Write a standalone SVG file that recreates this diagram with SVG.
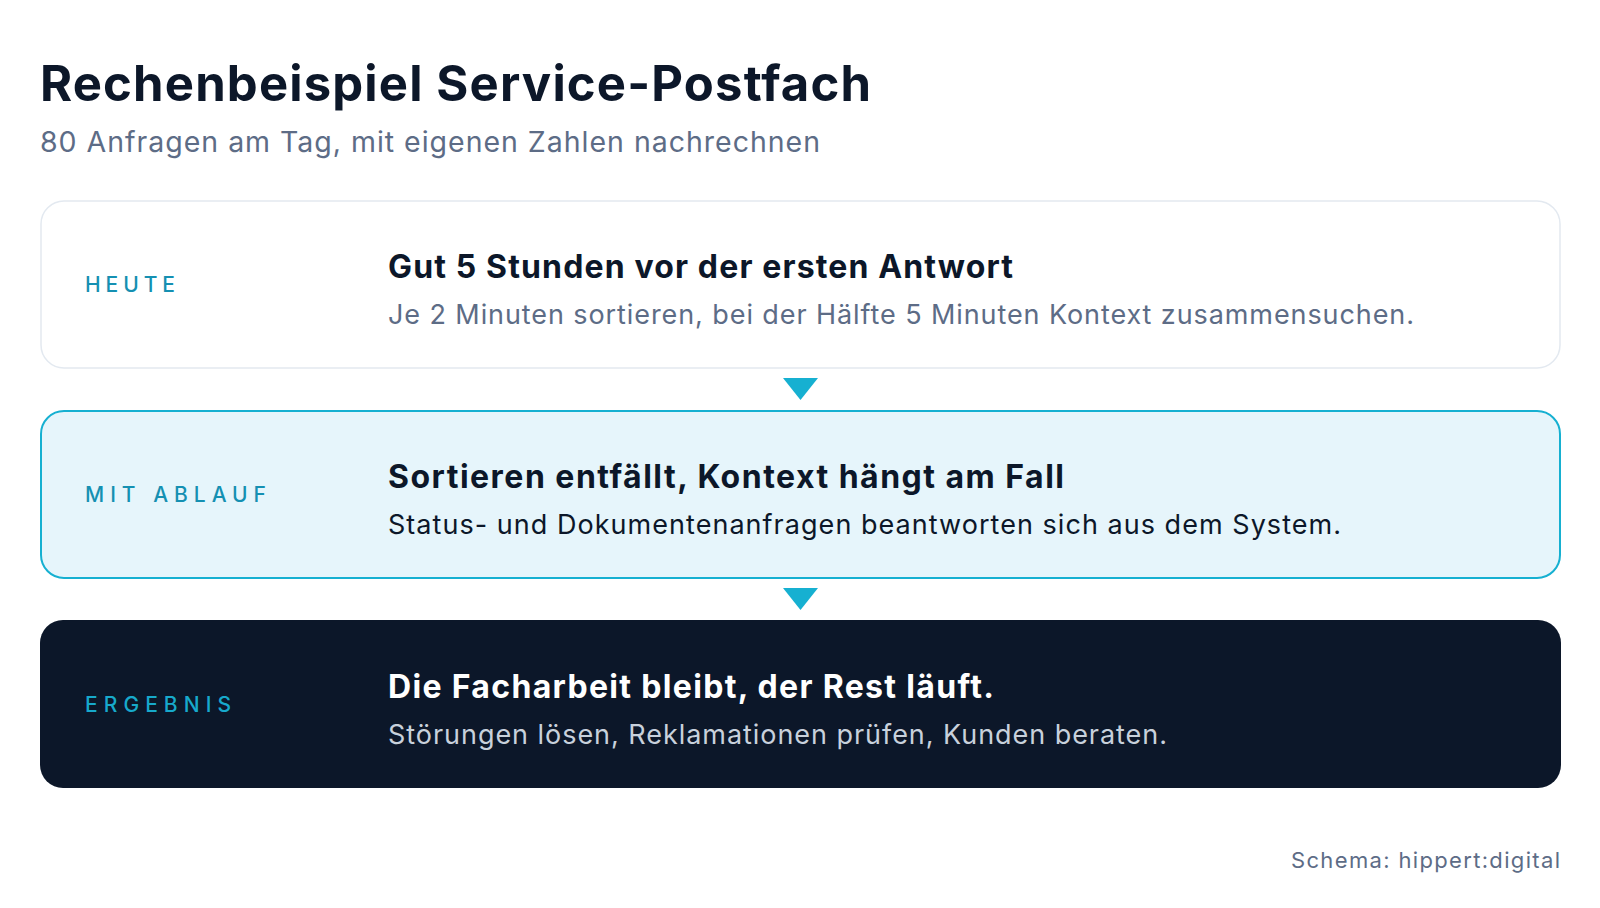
<svg xmlns="http://www.w3.org/2000/svg" width="1600" height="908" viewBox="0 0 1600 908">
<style>
text{font-family:Inter,"Noto Sans","Liberation Sans",sans-serif}
.title{font-size:49px;font-weight:700;fill:#0c1729}
.sub{font-size:28.5px;fill:#5d6c86}
.lbl{font-size:21px;font-weight:500;fill:#1590b2}
.h{font-size:32px;font-weight:700;fill:#0c1729}
.d{font-size:27px;fill:#5d6c86}
.foot{font-size:22px;fill:#5d6c86}
.tri{fill:#16b0d1}
</style>
<rect width="1600" height="908" fill="#ffffff"/>
<text class="title" x="40" y="101" textLength="831" lengthAdjust="spacing">Rechenbeispiel Service-Postfach</text>
<text class="sub" x="40" y="152" textLength="780" lengthAdjust="spacing">80 Anfragen am Tag, mit eigenen Zahlen nachrechnen</text>
<g id="node-heute">
<rect x="41" y="201" width="1519" height="167" rx="23" fill="#ffffff" stroke="#e3e9f0" stroke-width="1.5"/>
<text class="lbl" x="85" y="292" textLength="90" lengthAdjust="spacing">HEUTE</text>
<text class="h" x="388" y="278" textLength="625" lengthAdjust="spacing">Gut 5 Stunden vor der ersten Antwort</text>
<text class="d" x="388" y="324" textLength="1026" lengthAdjust="spacing">Je 2 Minuten sortieren, bei der Hälfte 5 Minuten Kontext zusammensuchen.</text>
</g>
<g id="node-ablauf">
<rect x="41" y="411" width="1519" height="167" rx="23" fill="#e6f5fb" stroke="#16b0d1" stroke-width="2"/>
<text class="lbl" x="85" y="502" textLength="181" lengthAdjust="spacing">MIT ABLAUF</text>
<text class="h" x="388" y="488" textLength="676" lengthAdjust="spacing">Sortieren entfällt, Kontext hängt am Fall</text>
<text class="d" x="388" y="534" style="fill:#0c1729" textLength="953" lengthAdjust="spacing">Status- und Dokumentenanfragen beantworten sich aus dem System.</text>
</g>
<g id="node-ergebnis">
<rect x="40" y="620" width="1521" height="168" rx="23" fill="#0c1729"/>
<text class="lbl" x="85" y="712" style="fill:#17a9cb" textLength="146" lengthAdjust="spacing">ERGEBNIS</text>
<text class="h" x="388" y="698" style="fill:#ffffff" textLength="606" lengthAdjust="spacing">Die Facharbeit bleibt, der Rest läuft.</text>
<text class="d" x="388" y="744" style="fill:#c8d1dc" textLength="779" lengthAdjust="spacing">Störungen lösen, Reklamationen prüfen, Kunden beraten.</text>
</g>
<g id="connectors">
<polygon class="tri" points="783,378 818,378 800.5,400"/>
<polygon class="tri" points="783,588 818,588 800.5,610"/>
</g>
<text class="foot" x="1291" y="868" textLength="269" lengthAdjust="spacing">Schema: hippert:digital</text>
</svg>
